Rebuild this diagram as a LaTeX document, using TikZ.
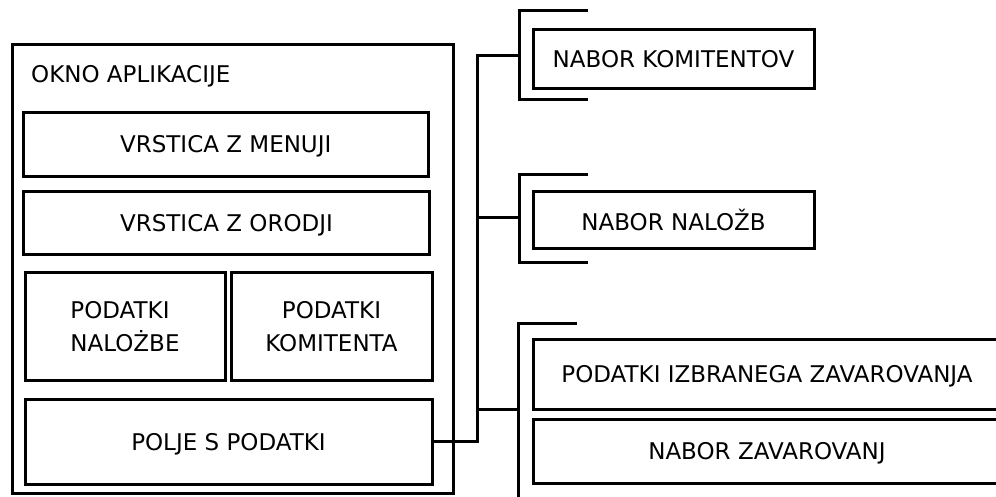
\documentclass[tikz,border=0pt]{standalone}
\usepackage{fontspec}
\setmainfont{DejaVu Sans}

\begin{document}
\begin{tikzpicture}[x=1pt, y=-1pt,
  box/.style={shape=rectangle, draw=black, line width=3pt, inner sep=0pt, text depth=0pt, font=\fontsize{23}{33}\selectfont},
  conn/.style={line width=3pt, draw=black}]
\useasboundingbox (0,0) rectangle (996,496);
\clip (0,0) rectangle (996,496);
\node[box, minimum width=441pt, minimum height=449pt] (okno) at (232.5,268.5) {};
\node[anchor=base west, inner sep=0pt, font=\fontsize{23}{33}\selectfont] (naslov) at (31,82) {OKNO APLIKACIJE};
\node[box, minimum width=404.5pt, minimum height=64pt] (meni) at (225.75,144) {VRSTICA Z MENUJI};
\node[box, minimum width=406pt, minimum height=63pt] (orodja) at (226.5,222.5) {VRSTICA Z ORODJI};
\node[box, minimum width=200pt, minimum height=108pt, align=left] (nalozba) at (125,326) {PODATKI\\NALOŻBE};
\node[box, minimum width=201pt, minimum height=108pt, align=center] (komitent) at (331.5,326) {PODATKI\\KOMITENTA};
\node[box, minimum width=407pt, minimum height=85pt] (polje) at (228.5,441.5) {POLJE S PODATKI};
\node[box, minimum width=281pt, minimum height=59pt] (nabkom) at (673.5,58.5) {NABOR KOMITENTOV};
\node[box, minimum width=281pt, minimum height=57pt] (nabnal) at (673.5,219.5) {NABOR NALOŽB};
\node[box, minimum width=468pt, minimum height=70pt] (izbrano) at (767,374) {PODATKI IZBRANEGA ZAVAROVANJA};
\node[box, minimum width=468pt, minimum height=64pt] (nabzav) at (767,451) {NABOR ZAVAROVANJ};
\coordinate (trunk) at (477,55);
\coordinate (b1) at (519,55);
\coordinate (b2) at (519,217);
\coordinate (b3) at (518,409);
\draw[conn] (588,10) -- (519,10) -- (519,99) -- (588,99);
\draw[conn] (588,174) -- (519,174) -- (519,262) -- (588,262);
\draw[conn] (577,323) -- (518,323) -- (518,520);
\draw[conn] (polje.east) -| (trunk) -- (b1);
\draw[conn] (trunk |- b2) -- (b2);
\draw[conn] (trunk |- b3) -- (b3);
\end{tikzpicture}
\end{document}
